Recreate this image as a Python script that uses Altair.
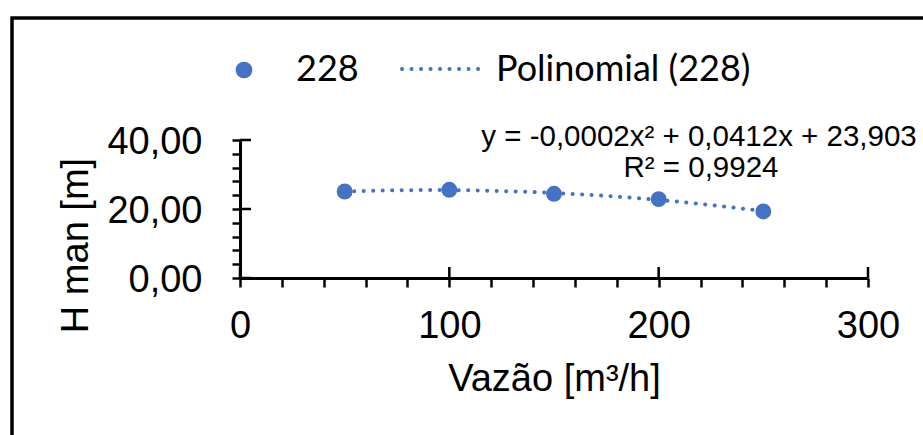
import altair as alt
import pandas as pd

# ---- data ----
flow = [50, 100, 150, 200, 250]
head = [25.07, 25.56, 24.40, 22.87, 19.29]
x_major = [0, 100, 200, 300]
y_major = [0, 20, 40]
x_ticks = list(range(0, 301, 20))
y_ticks = list(range(0, 41, 4))
series_points = ["228"]
series_trend = ["Polinomial (228)"]
eq_line1 = ["y = -0,0002x² + 0,0412x + 23,903"]
eq_line2 = ["R² = 0,9924"]
x_title = "Vazão [m³/h]"
y_title = "H man [m]"

BLUE = "#4472C4"
W, H = 628, 138
AX_FONT = "Liberation Sans"
LEG_FONT = "Lato"

df = pd.DataFrame({"Q": flow, "H": head})
xs = alt.Scale(domain=[0, 300], nice=False, zero=False)
ys = alt.Scale(domain=[0, 40], nice=False, zero=False)

x_axis = alt.Axis(
    values=x_ticks, format="d",
    labelExpr="datum.value % 100 === 0 ? datum.label : ''",
    title=x_title, tickSize=9, labelBaseline="alphabetic", labelPadding=50,
    titleX=314, titleY=112, titleBaseline="alphabetic",
)
y_axis = alt.Axis(
    values=y_ticks,
    labelExpr="datum.value % 20 === 0 ? replace(format(datum.value, '.2f'), '.', ',') : ''",
    title=y_title, tickSize=8, labelPadding=30, labelOffset=2,
    titleX=-153, titleY=105, titleBaseline="alphabetic", titleAlign="center",
)


def X(f):
    return alt.X(f, type="quantitative", scale=xs, axis=x_axis)


def Y(f):
    return alt.Y(f, type="quantitative", scale=ys, axis=y_axis)


trend = alt.Chart(df).transform_regression(
    "Q", "H", method="poly", order=2
).mark_line(color=BLUE, strokeWidth=4, strokeDash=[0.1, 9.4], strokeCap="round").encode(
    x=X("Q"), y=Y("H")
)

points = alt.Chart(df).mark_circle(size=254, color=BLUE, opacity=1).encode(
    x=X("Q"), y=Y("H")
)

xin = alt.Chart(pd.DataFrame({"v": x_major})).mark_rule(color="black", strokeWidth=2.5).encode(
    x=X("v"), y=alt.value(H), y2=alt.value(H - 11)
)
yin = alt.Chart(pd.DataFrame({"v": y_major})).mark_rule(color="black", strokeWidth=2.5).encode(
    y=Y("v"), x=alt.value(0), x2=alt.value(11)
)

eq1 = alt.Chart(pd.DataFrame({"t": eq_line1})).mark_text(
    font=AX_FONT, fontSize=29.5, align="center", baseline="alphabetic", color="black"
).encode(text="t:N", x=alt.value(459), y=alt.value(6))
eq2 = alt.Chart(pd.DataFrame({"t": eq_line2})).mark_text(
    font=AX_FONT, fontSize=29.5, align="center", baseline="alphabetic", color="black"
).encode(text="t:N", x=alt.value(461), y=alt.value(37))

leg_sym = alt.Chart(pd.DataFrame({"t": series_points})).mark_circle(
    size=280, color=BLUE, opacity=1
).encode(x=alt.value(4), y=alt.value(-70))
leg_t1 = alt.Chart(pd.DataFrame({"t": series_points})).mark_text(
    font=LEG_FONT, fontSize=36, align="left", baseline="middle", color="black"
).encode(text="t:N", x=alt.value(56), y=alt.value(-70))
leg_line = alt.Chart(pd.DataFrame({"t": series_trend})).mark_rule(
    color=BLUE, strokeWidth=4, strokeDash=[0.1, 9.4], strokeCap="round"
).encode(x=alt.value(162), x2=alt.value(243), y=alt.value(-71))
leg_t2 = alt.Chart(pd.DataFrame({"t": series_trend})).mark_text(
    font=LEG_FONT, fontSize=36, align="left", baseline="middle", color="black"
).encode(text="t:N", x=alt.value(256), y=alt.value(-70))

border = alt.Chart(pd.DataFrame({"t": [0]})).mark_rect(
    fill="transparent", stroke="black", strokeWidth=3.5
).encode(x=alt.value(-228), x2=alt.value(720), y=alt.value(-122), y2=alt.value(330))

chart = alt.layer(
    border, trend, points, xin, yin, eq1, eq2, leg_sym, leg_t1, leg_line, leg_t2
).properties(
    width=W, height=H,
    padding={"left": 240, "top": 140, "right": 55, "bottom": 157},
    autosize=alt.AutoSizeParams(type="none"),
    background="white",
).configure_view(stroke=None).configure_axis(
    domainColor="black", domainWidth=3, tickColor="black", tickWidth=2.5,
    labelFont=AX_FONT, labelFontSize=38, labelColor="black",
    titleFont=AX_FONT, titleFontSize=38, titleColor="black", titleFontWeight="normal",
    grid=False, labelFlush=False, labelOverlap=False, labelBound=False,
)

chart.save("out.html", embed_options={"renderer": "svg", "actions": False})
